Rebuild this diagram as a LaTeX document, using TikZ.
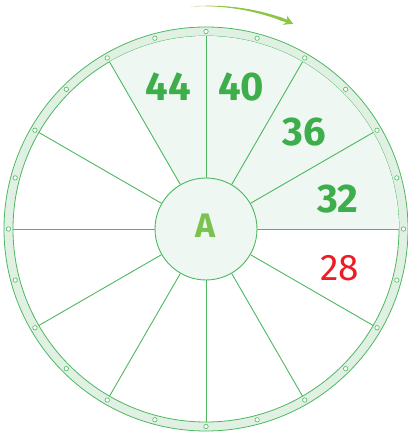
\documentclass[tikz,border=0pt]{standalone}
\usepackage{fontspec}
\newfontfamily\numfont{Fira Sans}
\usetikzlibrary{arrows.meta}
\definecolor{lg}{HTML}{4DB860}
\definecolor{numgreen}{HTML}{3EAD4C}
\definecolor{agreen}{HTML}{7CC24E}
\definecolor{arrowgreen}{HTML}{8DC641}
\definecolor{ringfill}{HTML}{E0F1E4}
\definecolor{secfill}{HTML}{EEF7F1}
\definecolor{numred}{HTML}{EE1C25}
\tikzset{
  rim/.style={lg, line width=0.8pt},
  spoke/.style={lg, line width=0.9pt},
  dot/.style={lg, fill=white, line width=0.6pt},
  hubnode/.style={circle, draw=lg, line width=0.9pt, fill=secfill, minimum size=102pt, inner sep=0pt},
  gnum/.style={font=\numfont\bfseries\fontsize{40}{40}\selectfont, text=numgreen, inner sep=0pt},
  rnum/.style={font=\numfont\fontsize{37}{37}\selectfont, text=numred, inner sep=0pt}
}
\begin{document}
\begin{tikzpicture}[x=1pt,y=1pt]
\useasboundingbox (0,0) rectangle (407,438);
\coordinate (C) at (206,209);
% ring
\fill[ringfill, even odd rule] (C) circle (202) (C) circle (193);
\draw[rim] (C) circle (202);
\draw[rim] (C) circle (193);
% shaded sectors
\fill[secfill] (C) -- ([shift={(0:193)}]C) arc (0:120:193) -- cycle;
% hub
\node[hubnode] (hub) at (C) {};
\node[font=\numfont\bfseries\fontsize{34}{34}\selectfont, text=agreen, inner sep=0pt] (A) at (206,212.5) {A};
% spokes
\foreach \a in {0,30,...,330}
  \draw[spoke] (hub.\a) -- ([shift={(\a:193)}]C);
% dots
\foreach \a in {0,15,...,345}
  \draw[dot] ([shift={(\a:197.5)}]C) circle (2.2);
% numbers
\node[gnum] (n44) at (168,351) {44};
\node[gnum] (n40) at (241,351) {40};
\node[gnum] (n36) at (304,306) {36};
\node[gnum] (n32) at (338,239) {32};
\node[rnum] (n28) at (340,170) {28};
% rotation arrow (tapered shaft + head)
\begin{scope}[shift={(C)}]
  \fill[arrowgreen] plot[domain=94:70, samples=30] (\x:{223+(94-\x)/24*1.5})
     -- plot[domain=70:94, samples=30] (\x:{223-(94-\x)/24*1.5}) -- cycle;
  \coordinate (arrS) at (71:223);
  \coordinate (arrE) at (67:223);
\end{scope}
\draw[arrowgreen, line width=3pt, -{Stealth[length=9pt,width=10pt]}] (arrS) to[bend left=2] (arrE);
\end{tikzpicture}
\end{document}
